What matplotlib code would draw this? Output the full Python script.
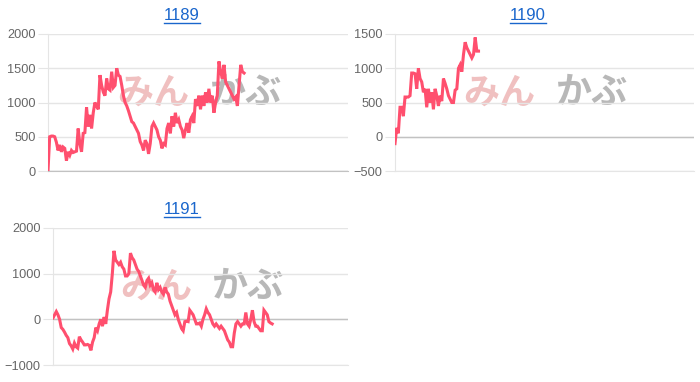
import numpy as np
import matplotlib.pyplot as plt
from matplotlib.lines import Line2D

# ------------------------
# Data
# ------------------------

titles = ["1189", "1190", "1191"]

v1189 = [0, 500, 510, 510, 500, 420, 300, 380, 280, 350, 330, 150, 280, 230, 300,
         270, 280, 290, 620, 400, 280, 550, 560, 930, 650, 820, 620, 850, 1000, 950,
         900, 1400, 1250, 1150, 1100, 1350, 1200, 1180, 1450, 1220, 1250, 1500, 1400,
         1380, 1250, 1100, 1000, 950, 880, 800, 720, 700, 650, 600, 550, 430, 380, 300,
         450, 400, 250, 400, 650, 700, 650, 600, 500, 450, 330, 400, 380, 620, 700, 550,
         800, 650, 850, 700, 750, 650, 600, 480, 600, 700, 560, 750, 800, 700, 1050, 950,
         1100, 900, 1100, 950, 1150, 1000, 1200, 1000, 1100, 850, 1000, 1100, 1600, 1450,
         1350, 1550, 1300, 1250, 1200, 1150, 1100, 1050, 1080, 950, 1250, 1550, 1450, 1430]

v1190 = [-100, 130, 50, 430, 430, 300, 580, 580, 580, 600, 930, 930, 920, 700, 1000,
         850, 800, 650, 700, 430, 700, 500, 650, 400, 700, 600, 450, 600, 520, 850, 780,
         700, 600, 550, 500, 500, 680, 700, 1000, 1050, 950, 1200, 1380, 1300, 1250, 1200,
         1150, 1200, 1450, 1250, 1250]

v1191 = [30, 100, 170, 100, 0, -180, -220, -280, -350, -400, -530, -580, -650, -520,
         -600, -630, -380, -450, -500, -560, -560, -550, -570, -680, -500, -400, -180,
         -250, -100, 0, -150, 50, -100, 200, 450, 600, 1000, 1500, 1300, 1250, 1200, 1250,
         1150, 1100, 950, 950, 1000, 1450, 1350, 1300, 1200, 1100, 1050, 950, 850, 750,
         700, 850, 900, 750, 800, 650, 600, 800, 650, 700, 600, 550, 700, 600, 550, 400,
         300, 200, 100, 150, 0, -100, -200, -250, -50, -40, -50, 200, 150, 100, 0, -100,
         -100, -80, -150, 0, 100, 230, 150, 100, 0, -100, -150, -100, -150, -200, -150,
         -200, -250, -350, -450, -500, -600, -600, -300, -100, -50, -100, -150, -100, -100,
         150, -100, -150, 0, 200, -50, -150, -150, -200, -250, -250, 200, 150, 100, -50,
         -80, -100]

series = [v1189, v1190, v1191]
ylims = [(0, 2000), (-500, 1500), (-1000, 2000)]
ysteps = [500, 500, 1000]
n_slots = 179

# ------------------------
# Layout (figure fractions)
# ------------------------

W, H = 700, 382
boxes = [(48, 34, 300, 137), (395, 34, 299, 137), (53, 228, 295, 137)]
title_pos = [(182, 15), (528, 15), (182, 209)]

line_color = "#ff4f6e"
grid_color = "#e5e5e5"
zero_color = "#c2c2c2"
title_color = "#1a66cc"

plt.rcParams["font.family"] = ["Liberation Sans", "DejaVu Sans"]

fig = plt.figure(figsize=(7, 3.82), dpi=100)

for vals, ttl, ylim, step, box, tpos in zip(series, titles, ylims, ysteps,
                                           boxes, title_pos):
    x0, y0, w, h = box
    ax = fig.add_axes([x0 / W, 1 - (y0 + h) / H, w / W, h / H])

    # watermark
    ax.text(0.35, 0.57, "みん", transform=ax.transAxes, ha="center",
            va="center", fontsize=26, fontweight="bold", color="#f0c0c0",
            family=["Noto Sans CJK JP"], zorder=1)
    ax.text(0.66, 0.57, "かぶ", transform=ax.transAxes, ha="center",
            va="center", fontsize=26, fontweight="bold", color="#b8b8b8",
            family=["Noto Sans CJK JP"], zorder=1)

    ax.plot(np.arange(len(vals)), vals, color=line_color, lw=2.2, zorder=3,
            solid_joinstyle="miter")

    ax.set_xlim(0, n_slots)
    ax.set_ylim(*ylim)
    ax.set_yticks(np.arange(ylim[0], ylim[1] + 1, step))
    ax.set_xticks([])
    ax.grid(axis="y", color=grid_color, lw=1, zorder=0)
    ax.axhline(0, color=zero_color, lw=1, zorder=2)

    for side in ["top", "right"]:
        ax.spines[side].set_visible(False)
    ax.spines["left"].set_color(grid_color)
    ax.spines["bottom"].set_color(zero_color if ylim[0] == 0 else grid_color)
    ax.tick_params(axis="y", length=7, color=grid_color, labelsize=9.2,
                   labelcolor="#666666", pad=2)

    # title with underline
    tx, ty = tpos
    fig.text(tx / W, 1 - ty / H, ttl, ha="center", va="center",
             fontsize=12, color=title_color)
    fig.add_artist(Line2D([(tx - 18) / W, (tx + 18) / W],
                          [1 - (ty + 7.5) / H, 1 - (ty + 7.5) / H],
                          color=title_color, lw=1))

plt.savefig("out.png", dpi=100)
plt.close()
